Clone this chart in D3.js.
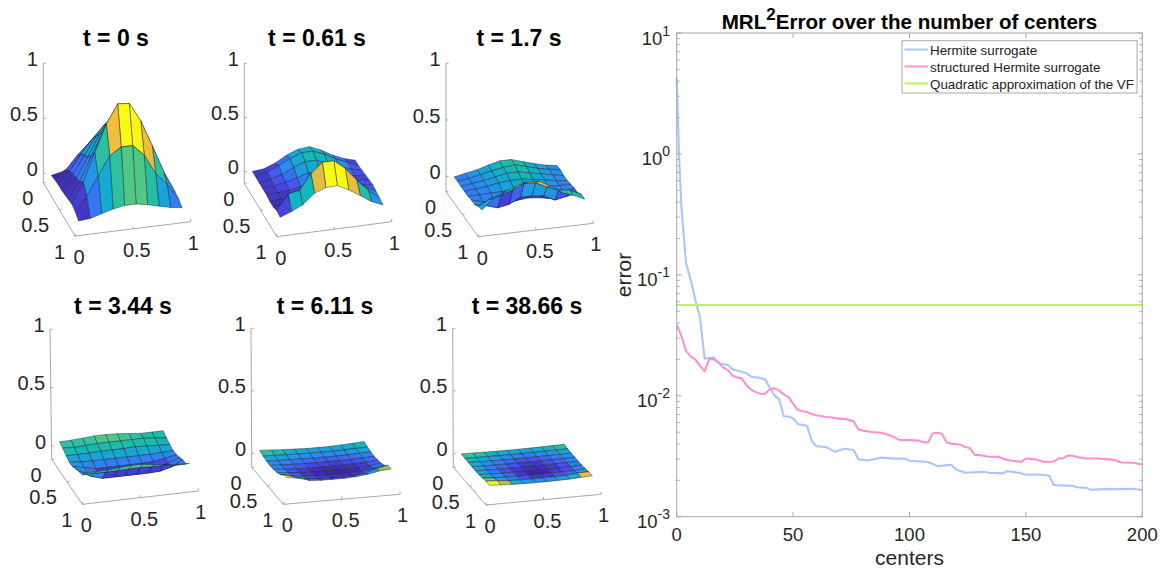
<!DOCTYPE html>
<html><head><meta charset="utf-8">
<script src="https://cdn.jsdelivr.net/npm/d3@7"></script>
<style>html,body{margin:0;padding:0;background:#fff}text{font-family:"Liberation Sans",Arial,sans-serif;fill:#262626}</style>
</head><body><svg id="c" width="1166" height="571"></svg>
<script>
// ---------- data ----------
const panelTitles = ["t = 0 s","t = 0.61 s","t = 1.7 s","t = 3.44 s","t = 6.11 s","t = 38.66 s"];
const surfaceTicks = [0,0.5,1];
const zT0 = [
[.01,.03,.06,.09,.12,.12,.09,.06,.03,.01],
[.02,.10,.22,.32,.38,.38,.32,.20,.10,.02],
[.03,.14,.28,.41,.52,.52,.42,.28,.14,.03],
[.03,.16,.32,.48,.60,.60,.48,.32,.16,.03],
[.04,.18,.36,.55,.68,.68,.55,.36,.18,.03],
[.05,.20,.42,.62,.76,.76,.60,.42,.20,.05],
[.06,.25,.50,.75,.92,.91,.74,.50,.25,.05],
[.045,.17,.34,.51,.58,.58,.48,.30,.185,.04],
[.01,.02,.05,.08,.10,.10,.08,.055,.03,.015]];
const zT061 = [
[.03,.04,.08,.14,.18,.19,.145,.085,.04,.01],
[.03,.06,.11,.16,.20,.20,.16,.10,.06,.01],
[.03,.05,.08,.13,.17,.17,.13,.08,.05,.02],
[.03,.04,.06,.09,.12,.12,.10,.06,.04,.03],
[.03,.03,.04,.06,.08,.09,.08,.06,.05,.04],
[.02,.02,.03,.05,.09,.12,.11,.09,.06,.05],
[.02,.03,.07,.15,.25,.28,.24,.18,.10,.04],
[.04,.18,.20,.34,.43,.43,.345,.225,.12,.03],
[.03,.07,.12,.21,.25,.255,.20,.135,.065,.02]];
const zT17 = [
[.02,.04,.06,.09,.115,.115,.085,.055,.03,.015],
[.025,.035,.06,.08,.10,.11,.085,.055,.035,.02],
[.02,.035,.05,.07,.09,.09,.07,.05,.03,.01],
[.02,.03,.04,.06,.07,.07,.055,.04,.02,.01],
[.02,.02,.025,.025,.035,.035,.025,.025,.02,.02],
[.03,.0,-.02,-.04,-.02,-.01,-.02,-.04,.0,.03],
[.03,.01,-.02,.0,.05,.05,.04,-.01,.01,.03],
[.06,.11,.135,.17,.215,.21,.16,.12,.11,.06],
[.07,.155,.205,.247,.27,.265,.21,.14,.105,.06]];
const zT344 = [
[.057,.06,.066,.074,.074,.07,.06,.05,.05,.05],
[.045,.04,.045,.05,.05,.05,.05,.05,.04,.03],
[.02,.02,.02,.025,.025,.025,.03,.025,.02,.015],
[.005,.0,-.005,-.005,-.005,-.005,-.005,-.005,.0,.005],
[.01,-.01,-.03,-.03,-.03,-.03,-.03,-.025,-.01,.01],
[.03,-.02,-.04,-.04,-.04,-.04,-.04,-.035,-.01,.03],
[.05,.0,-.03,-.03,-.03,-.03,-.03,-.025,.0,.05],
[.065,.065,.065,.065,.07,.07,.065,.065,.055,.055],
[.12,.123,.126,.134,.143,.14,.126,.111,.106,.103]];
const zT611 = [
[.04,.036,.03,.027,.023,.023,.024,.028,.033,.04],
[.026,.024,.021,.019,.017,.017,.018,.02,.024,.028],
[.018,.015,.013,.012,.01,.01,.011,.013,.016,.02],
[.015,.011,.008,.006,.005,.005,.006,.008,.012,.016],
[.017,.008,.004,.002,.001,.001,.002,.004,.009,.018],
[.024,.01,.003,.001,.0,.0,.001,.004,.012,.026],
[.038,.018,.006,.003,.002,.002,.003,.008,.022,.04],
[.07,.04,.018,.01,.008,.008,.012,.024,.052,.072],
[.075,.065,.037,.032,.032,.032,.037,.048,.067,.075]];
const zT3866 = [
[.012,.011,.009,.008,.007,.007,.008,.009,.011,.012],
[.009,.007,.006,.005,.004,.004,.005,.006,.007,.009],
[.008,.005,.004,.003,.002,.002,.003,.004,.005,.007],
[.007,.004,.003,.002,.001,.001,.002,.003,.004,.007],
[.007,.004,.002,.001,.0005,.0005,.001,.002,.004,.007],
[.008,.005,.003,.001,.0,.0,.001,.002,.004,.008],
[.014,.006,.004,.002,.001,.001,.002,.003,.005,.012],
[.021,.016,.008,.006,.005,.005,.006,.008,.017,.02],
[.02,.015,.01,.008,.007,.007,.008,.01,.015,.02]];
const surfaces = [zT0,zT061,zT17,zT344,zT611,zT3866];

const hermiteCenters = [0,0.3,1,2,4,6,8,10,12,16,18,22,24,28,30,32,36,38,40,42,44,46,48,50,52,54,56,58,60,64,68,72,76,78,82,88,93,98,100,108,112,118,120,124,132,134,140,142,148,150,156,160,162,170,172,176,178,186,188,196,200];
const hermiteError = [4.3,2.8,1.0,.37,.125,.091,.062,.0445,.0203,.0207,.0186,.018,.01656,.01574,.01535,.01439,.01403,.01368,.01164,.01007,.00933,.00678,.00673,.00652,.00585,.00574,.00564,.00426,.00382,.00377,.00344,.00365,.00356,.00299,.00292,.00308,.00302,.00303,.0029,.00283,.00262,.00269,.00246,.00231,.00235,.00231,.00228,.00238,.00229,.00222,.00223,.00218,.00183,.0018,.00175,.00173,.00167,.0017,.00169,.0017,.00166];
const structuredCenters = [0,2,4,6,8,10,12,14,16,18,20,22,24,26,28,30,32,34,36,38,40,42,44,46,48,50,52,54,56,58,60,64,66,70,72,76,78,80,84,88,92,96,100,104,106,108,110,112,114,116,118,122,124,126,128,130,134,138,142,148,150,154,158,162,164,166,168,170,172,176,180,186,188,191,196,200];
const structuredError = [.0384,.0313,.0235,.0211,.02,.01766,.0159,.0202,.02,.0188,.0171,.0163,.01466,.01419,.01393,.01219,.01122,.01072,.0104,.0104,.01135,.01151,.01102,.01026,.00975,.00863,.00766,.00746,.00736,.00705,.0069,.00668,.00665,.00644,.00644,.00615,.00529,.00515,.00502,.00495,.00468,.0043,.0043,.00426,.00412,.00412,.0049,.00495,.00483,.00409,.00402,.00394,.00377,.0037,.00324,.00324,.00313,.00313,.00294,.00284,.00303,.00298,.00283,.00286,.00303,.00303,.00321,.00319,.00311,.00303,.00303,.00298,.00294,.00281,.00279,.0027];
const quadraticCenters = [0,200];
const quadraticError = [.0564,.0564];
const legendLabels = ["Hermite surrogate","structured Hermite surrogate","Quadratic approximation of the VF"];
const seriesColors = ["#a9c6ff","#ff90d4","#bdf35e"];
const xTicks = [0,50,100,150,200];
const yExponents = [1,0,-1,-2,-3];

// ---------- layout ----------
const panels = [
 {tx:116,ty:46, top:[43.3,63.3], o:[43.3,182.7], f:[75,236], r:[190.7,221.7], z0:173.3},
 {tx:317,ty:46, top:[244.3,63.3],o:[244.3,183.3],f:[276.7,236.7],r:[391.7,221.7],z0:171.7},
 {tx:519,ty:46, top:[446,63.3],  o:[446,191.7],  f:[478.3,236.7],r:[593.3,223.3],z0:176.7},
 {tx:123,ty:314,top:[50,329.3],  o:[51.7,459.3], f:[82.3,504.3], r:[198.3,491],  z0:446},
 {tx:325,ty:314,top:[251,328.3], o:[251.7,467.3],f:[283.3,504.3],r:[400,494.3],  z0:453.3},
 {tx:527,ty:314,top:[452.7,328.3],o:[453.3,467.3],f:[486,505],   r:[601,494.3],  z0:453.3}];
const gridX = d3.scaleLinear().domain([0,9]).range([.05,.945]);
const gridY = d3.scaleLinear().domain([0,8]).range([.07,.93]);
const parula = d3.scaleLinear()
 .domain([0,.1,.2,.3,.4,.5,.6,.7,.8,.9,1])
 .range(["#3e26a8","#4752f0","#2e83f3","#1aa0e0","#0fb1c8","#1fbda8","#3cc696","#8ac95e","#eebc3c","#fdc82e","#f9fb15"]);

const svg = d3.select("#c");
const axisGray = "#a8a8a8";

panels.forEach((p,k)=>{
  const g = svg.append("g");
  const Z = surfaces[k];
  const ex = [p.r[0]-p.f[0], p.r[1]-p.f[1]];
  const ey = [p.f[0]-p.o[0], p.f[1]-p.o[1]];
  const zy = d3.scaleLinear().domain([0,1]).range([p.z0,p.top[1]]);
  const zx = d3.scaleLinear().domain([p.z0,p.top[1]]).range([p.o[0]+(p.top[0]-p.o[0])*(p.o[1]-p.z0)/(p.o[1]-p.top[1]),p.top[0]]);
  const floorY = (x,y)=>p.o[1]+x*ex[1]+y*ey[1];
  const floorX = (x,y)=>p.o[0]+x*ex[0]+y*ey[0];
  const P = (x,y,z)=>[floorX(x,y)+zx(zy(z))-p.o[0], floorY(x,y)+(zy(z)-p.z0)+(p.z0-p.o[1])];
  // axes
  const axis = [[p.top,p.o],[p.o,p.f],[p.f,p.r]];
  g.selectAll("line.ax").data(axis).join("line").attr("class","ax")
   .attr("x1",d=>d[0][0]).attr("y1",d=>d[0][1]).attr("x2",d=>d[1][0]).attr("y2",d=>d[1][1])
   .attr("stroke",axisGray).attr("stroke-width",1);
  // ticks
  surfaceTicks.forEach(t=>{
    const xp=[floorX(t,1),floorY(t,1)], yp=[floorX(0,t),floorY(0,t)], zpY=zy(t), zpX=zx(zpY);
    g.append("line").attr("x1",xp[0]).attr("y1",xp[1]).attr("x2",xp[0]).attr("y2",xp[1]-2.5).attr("stroke",axisGray);
    g.append("line").attr("x1",yp[0]).attr("y1",yp[1]).attr("x2",yp[0]+2.5).attr("y2",yp[1]).attr("stroke",axisGray);
    g.append("line").attr("x1",zpX).attr("y1",zpY).attr("x2",zpX+2.5).attr("y2",zpY).attr("stroke",axisGray);
    const lab=(x,y,a)=>g.append("text").attr("x",x).attr("y",y).attr("text-anchor",a).attr("dominant-baseline","central").attr("font-size",20).text(t);
    lab(xp[0]+(t==1?2.5:4),xp[1]+21,"middle");
    lab(yp[0]-10,yp[1]+15.5,"end");
    lab(zpX-5.5,zpY-4.5,"end");
  });
  // faces
  const vmin=d3.min(Z.flat()), vmax=d3.max(Z.flat());
  const cs=d3.scaleLinear().domain([vmin,vmax]).range([0,1]);
  const faces=[];
  for(let i=0;i<Z.length-1;i++)for(let j=0;j<Z[0].length-1;j++){
    faces.push({i,j,pts:[[j,i],[j+1,i],[j+1,i+1],[j,i+1]].map(([a,b])=>P(gridX(a),gridY(b),Z[b][a])),c:Z[i][j]});
  }
  faces.sort((a,b)=>(a.i*ey[1]+(a.j)*ex[1]*(8/9))-(b.i*ey[1]+(b.j)*ex[1]*(8/9)));
  g.selectAll("path.f").data(faces).join("path").attr("class","f")
   .attr("d",d=>"M"+d.pts.map(q=>q[0].toFixed(2)+","+q[1].toFixed(2)).join("L")+"Z")
   .attr("fill",d=>parula(cs(d.c))).attr("stroke","#1c1c2c").attr("stroke-opacity",.8).attr("stroke-width",.55);
  // title
  g.append("text").attr("x",p.tx).attr("y",p.ty).attr("text-anchor","middle").attr("font-size",23).attr("font-weight","bold").style("fill","#000").text(panelTitles[k]);
});

// ---------- right chart ----------
const L=676.7,R=1142.3,T=33,B=516.7;
const x=d3.scaleLinear().domain([0,200]).range([L,R]);
const y=d3.scaleLog().domain([1e-3,10]).range([B,T]);
const rc=svg.append("g");
const line=d3.line().x(d=>x(d[0])).y(d=>y(d[1]));
const series=[[hermiteCenters,hermiteError],[structuredCenters,structuredError],[quadraticCenters,quadraticError]];
series.forEach((s,i)=>{
  rc.append("path").attr("d",line(d3.zip(s[0],s[1]))).attr("fill","none").attr("stroke",seriesColors[i]).attr("stroke-width",2.1).attr("stroke-linejoin","round");
});
// frame
rc.append("rect").attr("x",L).attr("y",T).attr("width",R-L).attr("height",B-T).attr("fill","none").attr("stroke","#a8a8a8").attr("stroke-width",1);
// x ticks
xTicks.forEach(t=>{
  [[B,B-5],[T,T+5]].forEach(v=>rc.append("line").attr("x1",x(t)).attr("x2",x(t)).attr("y1",v[0]).attr("y2",v[1]).attr("stroke","#a8a8a8"));
  rc.append("text").attr("x",x(t)).attr("y",541).attr("text-anchor","middle").attr("font-size",18.5).text(t);
});
// y ticks
yExponents.forEach(e=>{
  const v=Math.pow(10,e), py=y(v);
  [[L,L+5],[R,R-5]].forEach(h=>rc.append("line").attr("x1",h[0]).attr("x2",h[1]).attr("y1",py).attr("y2",py).attr("stroke","#a8a8a8"));
  if(e>-3)d3.range(2,10).forEach(m=>{
    const my=y(m*Math.pow(10,e-1));
    [[L,L+3],[R,R-3]].forEach(h=>rc.append("line").attr("x1",h[0]).attr("x2",h[1]).attr("y1",my).attr("y2",my).attr("stroke","#a8a8a8"));
  });
  const tx=rc.append("text").attr("x",L-6.7).attr("y",py+11.5).attr("text-anchor","end").attr("font-size",18.5);
  tx.append("tspan").text("10");
  tx.append("tspan").attr("dy",-9).attr("font-size",14).text(e);
});
rc.append("text").attr("x",(L+R)/2).attr("y",565).attr("text-anchor","middle").attr("font-size",21).text("centers");
rc.append("text").attr("transform",`translate(631,275) rotate(-90)`).attr("text-anchor","middle").attr("font-size",21).text("error");
const title=rc.append("text").attr("x",(L+R)/2).attr("y",28.5).attr("text-anchor","middle").attr("font-size",20.6).attr("font-weight","bold").style("fill","#000");
title.append("tspan").text("MRL");
title.append("tspan").attr("dy",-9).attr("font-size",17).text("2");
title.append("tspan").attr("dy",9).text("Error over the number of centers");
// legend
const lg=rc.append("g");
lg.append("rect").attr("x",902).attr("y",40.7).attr("width",235).attr("height",52.3).attr("fill","#fff").attr("stroke","#a8a8a8");
legendLabels.forEach((t,i)=>{
  const ly=d3.scaleLinear().domain([0,2]).range([49.5,83.5])(i);
  lg.append("line").attr("x1",904.5).attr("x2",928).attr("y1",ly).attr("y2",ly).attr("stroke",seriesColors[i]).attr("stroke-width",2);
  lg.append("text").attr("x",930).attr("y",ly+5).attr("font-size",13.4).style("fill","#222").text(t);
});
</script></body></html>
